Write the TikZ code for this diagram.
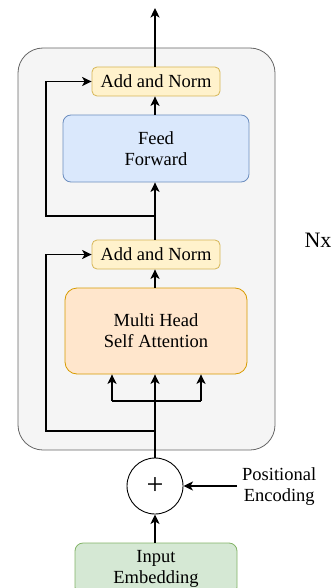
\documentclass[tikz,border=0pt]{standalone}
\usepackage{fontspec}
\setmainfont{Liberation Serif}
\usetikzlibrary{arrows.meta,calc}
\definecolor{grayfill}{HTML}{F5F5F5}
\definecolor{graydraw}{HTML}{666666}
\definecolor{yelfill}{HTML}{FFF2CC}
\definecolor{yeldraw}{HTML}{D6B656}
\definecolor{bluefill}{HTML}{DAE8FC}
\definecolor{bluedraw}{HTML}{6C8EBF}
\definecolor{orfill}{HTML}{FFE6CC}
\definecolor{ordraw}{HTML}{D79B00}
\definecolor{grfill}{HTML}{D5E8D4}
\definecolor{grdraw}{HTML}{82B366}
\tikzset{
  lbl/.style={font=\fontsize{18.5}{21}\selectfont, align=center},
  box/.style={lbl, rounded corners=8pt, line width=0.8pt, inner sep=0pt},
  addnorm/.style={box, fill=yelfill, draw=yeldraw, minimum width=128pt, minimum height=29pt, rounded corners=5pt},
  conn/.style={line width=1.7pt, -{Stealth[length=9.5pt,width=9pt,inset=2.5pt]}},
  wire/.style={line width=1.7pt},
}
\begin{document}
\begin{tikzpicture}[x=1pt,y=-1pt]
\useasboundingbox (0,0) rectangle (335,588);
% outer block
\path[fill=grayfill, draw=graydraw, line width=0.8pt, rounded corners=25pt] (18,48) rectangle (275,450);
% nodes
\node[addnorm] (add2) at (156,81.5) {Add and Norm};
\node[box, fill=bluefill, draw=bluedraw, minimum width=186pt, minimum height=67pt] (ff) at (156,148.5) {Feed\\Forward};
\node[addnorm] (add1) at (156,254.5) {Add and Norm};
\node[box, fill=orfill, draw=ordraw, minimum width=182pt, minimum height=86pt, rounded corners=12pt] (mh) at (156,331) {Multi Head\\Self Attention};
\node[circle, draw=black, fill=white, line width=0.9pt, minimum size=56pt, inner sep=0pt, font=\fontsize{30}{30}\selectfont] (plus) at (155,486) {+};
\node[box, fill=grfill, draw=grdraw, minimum width=162pt, minimum height=52pt] (emb) at (156,569) {Input\\Embedding};
\node[lbl, anchor=west, inner sep=0pt] (pos) at (242,486.5) {Positional\\Encoding};
\node[font=\fontsize{22}{22}\selectfont, inner sep=0pt] (nx) at (318,240) {Nx};
% coordinates
\coordinate (out) at (155,8);
\coordinate (j1) at (155,216);
\coordinate (j2) at (155,431);
\coordinate (split) at (155,401);
\coordinate (sl) at (112,401);
\coordinate (sr) at (201,401);
\coordinate (posstart) at (237,486);
% connectors
\draw[conn] (add2.north -| out) -- (out);
\draw[conn] (ff.north -| out) -- (add2.south -| out);
\draw[conn] (add1.north -| out) -- (ff.south -| out);
\draw[conn] (mh.north -| out) -- (add1.south -| out);
\draw[conn] (j1) -- (46,216) |- (add2.west);
\draw[conn] (j2) -- (46,431) |- (add1.west);
\draw[wire] (plus.north) -- (split);
\draw[wire] (sl) -- (sr);
\draw[conn] (sl) -- (sl |- mh.south);
\draw[conn] (split) -- (split |- mh.south);
\draw[conn] (sr) -- (sr |- mh.south);
\draw[conn] (emb.north -| plus) -- (plus.south);
\draw[conn] (posstart) -- (plus.east);
\end{tikzpicture}
\end{document}
